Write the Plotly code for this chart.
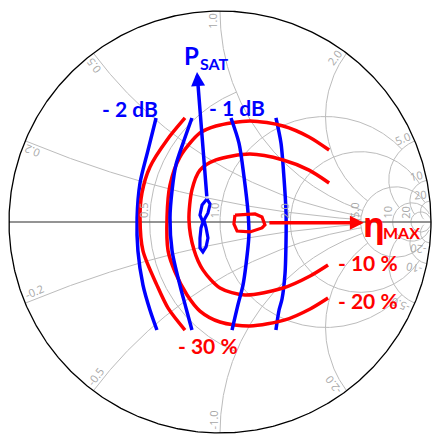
import numpy as np
import plotly.graph_objects as go

# ---------------- Smith chart grid definition ----------------
real_ticks = [0.5, 1.0, 2.0, 5.0, 10.0, 20.0]
real_tick_labels = ["0.5", "1.0", "2.0", "5.0", "10", "20"]
real_limits = [1.0, 5.0, 10.0, 20.0, 50.0, 1e6]      # |x| up to which each r-circle is drawn
imag_ticks = [0.2, 0.5, 1.0, 2.0, 5.0, 10.0, 20.0]
imag_tick_labels = ["0.2", "0.5", "1.0", "2.0", "5.0", "10", "20"]
imag_limits = [5.0, 5.0, 5.0, 5.0, 10.0, 20.0, 50.0]  # r up to which each x-arc is drawn

# ---------------- Load-pull contours (reflection coefficient, re / im) ----------------
# Psat -2 dB contour (two visible arcs)
psat_2db_left_re = [-0.303, -0.341, -0.379, -0.393, -0.389, -0.365, -0.332, -0.299]
psat_2db_left_im = [0.493, 0.341, 0.185, 0.019, -0.137, -0.299, -0.417, -0.512]
psat_2db_right_re = [0.265, 0.289, 0.303, 0.313, 0.313, 0.308, 0.294, 0.280, 0.265]
psat_2db_right_im = [0.493, 0.374, 0.213, 0.043, -0.085, -0.246, -0.365, -0.417, -0.512]
# Psat -1 dB contour
psat_1db_left_re = [-0.133, -0.175, -0.209, -0.227, -0.237, -0.227, -0.190, -0.161, -0.133]
psat_1db_left_im = [0.493, 0.374, 0.270, 0.152, 0.019, -0.137, -0.299, -0.408, -0.512]
psat_1db_right_re = [0.052, 0.090, 0.114, 0.133, 0.137, 0.123, 0.109, 0.085, 0.057]
psat_1db_right_im = [0.493, 0.374, 0.213, 0.043, -0.062, -0.204, -0.299, -0.393, -0.512]
# Psat peak region
psat_peak_re = [-0.062, -0.047, -0.057, -0.076, -0.066, -0.057, -0.066, -0.081, -0.095,
                -0.095, -0.090, -0.081, -0.095, -0.085, -0.062]
psat_peak_im = [0.109, 0.085, 0.043, 0.009, -0.028, -0.076, -0.118, -0.142, -0.123,
                -0.076, -0.028, 0.000, 0.033, 0.081, 0.109]
# Efficiency contours
eff_30_re = [-0.166, -0.251, -0.332, -0.370, -0.379, -0.365, -0.299, -0.246, -0.166]
eff_30_im = [0.493, 0.389, 0.261, 0.137, 0.019, -0.137, -0.299, -0.408, -0.512]
eff_20_re = [0.517, 0.422, 0.299, 0.142, -0.019, -0.095, -0.190, -0.237, -0.251, -0.246,
             -0.213, -0.156, -0.095, 0.000, 0.142, 0.308, 0.427, 0.512]
eff_20_im = [0.341, 0.403, 0.455, 0.479, 0.455, 0.422, 0.308, 0.175, 0.024, -0.137,
             -0.237, -0.346, -0.422, -0.474, -0.493, -0.464, -0.412, -0.360]
eff_10_re = [0.517, 0.422, 0.299, 0.142, -0.019, -0.095, -0.133, -0.147, -0.123, -0.081,
             0.000, 0.118, 0.299, 0.427, 0.512]
eff_10_im = [0.185, 0.246, 0.294, 0.322, 0.294, 0.246, 0.152, 0.009, -0.133, -0.227,
             -0.313, -0.346, -0.313, -0.256, -0.204]
eff_peak_re = [0.071, 0.166, 0.199, 0.213, 0.199, 0.142, 0.081, 0.066, 0.071]
eff_peak_im = [0.033, 0.038, 0.024, -0.014, -0.028, -0.047, -0.043, -0.009, 0.033]

# Arrows (tail -> head)
psat_arrow_re = [-0.062, -0.109]
psat_arrow_im = [0.114, 0.711]
eff_arrow_re = [0.227, 0.682]
eff_arrow_im = [-0.004, -0.004]

# ---------------- Figure geometry ----------------
W, H = 432, 436
CX, CY, R = 220.0, 222.0, 211.0   # pixel centre and radius of the chart

BLUE = "#0000FF"
RED = "#FF0000"
GRID = "#bcbcbc"
LBL = "#a8a8a8"

fig = go.Figure()


def gamma(z):
    return (z - 1) / (z + 1)


def add_line(re, im, color, width, shape="linear", smoothing=1.0):
    fig.add_trace(go.Scatter(x=list(re), y=list(im), mode="lines",
                             line=dict(color=color, width=width, shape=shape,
                                       smoothing=smoothing if shape == "spline" else None),
                             hoverinfo="skip", showlegend=False))


# resistance circles
for r, lim in zip(real_ticks, real_limits):
    xs = np.tan(np.linspace(-np.arctan(lim), np.arctan(lim), 800))
    g = gamma(r + 1j * xs)
    add_line(g.real, g.imag, GRID, 1)

# reactance arcs
for v, lim in zip(imag_ticks, imag_limits):
    rs = np.tan(np.linspace(0, np.arctan(lim), 500))
    for s in (1, -1):
        g = gamma(rs + 1j * s * v)
        add_line(g.real, g.imag, GRID, 1)

# real axis
add_line([-1, 1], [0, 0], "#707070", 1.6)
# outer circle
th = np.linspace(0, 2 * np.pi, 721)
add_line(np.cos(th), np.sin(th), "#000000", 1.3)

# contours
add_line(psat_2db_left_re, psat_2db_left_im, BLUE, 3.5, "spline", 0.8)
add_line(psat_2db_right_re, psat_2db_right_im, BLUE, 3.5, "spline", 0.8)
add_line(eff_30_re, eff_30_im, RED, 3.5, "spline", 0.8)
add_line(eff_20_re, eff_20_im, RED, 3.5, "spline", 0.8)
add_line(eff_10_re, eff_10_im, RED, 3.5, "spline", 0.8)
add_line(psat_1db_left_re, psat_1db_left_im, BLUE, 3.5, "spline", 0.8)
add_line(psat_1db_right_re, psat_1db_right_im, BLUE, 3.5, "spline", 0.8)
add_line(eff_peak_re, eff_peak_im, RED, 3.2)
add_line(psat_peak_re, psat_peak_im, BLUE, 3.2)

annotations = []

# ---- grid labels ----
FS = 11


def text_len(t):
    w = 0.0
    for ch in t:
        w += 3.0 if ch == "." else (3.8 if ch == "-" else 6.2)
    return w


for v, lab in zip(imag_ticks, imag_tick_labels):
    for s in (1, -1):
        g = gamma(1j * s * v)
        th0 = np.angle(g)
        out = np.array([np.cos(th0), np.sin(th0)])
        u = out if s > 0 else -out
        up = np.array([-u[1], u[0]])
        txt = lab if s > 0 else "-" + lab
        L = text_len(txt)
        pos = out * (1 - (3 + L / 2) / R) + up * (7 / R)
        ang = np.degrees(np.arctan2(u[1], u[0]))
        annotations.append(dict(x=pos[0], y=pos[1], xref="x", yref="y", text=txt,
                                showarrow=False, textangle=-ang, xanchor="center",
                                yanchor="middle",
                                font=dict(family="Open Sans", size=FS, color=LBL)))

for r, lab in zip(real_ticks, real_tick_labels):
    gx = (r - 1) / (r + 1)
    L = text_len(lab)
    annotations.append(dict(x=gx - 5.5 / R, y=(3.5 + L / 2) / R, xref="x", yref="y", text=lab,
                            showarrow=False, textangle=-90, xanchor="center", yanchor="middle",
                            font=dict(family="Open Sans", size=FS, color=LBL)))

# ---- arrows ----
annotations.append(dict(x=psat_arrow_re[1], y=psat_arrow_im[1], ax=psat_arrow_re[0],
                        ay=psat_arrow_im[0], xref="x", yref="y", axref="x", ayref="y",
                        text="", showarrow=True, arrowhead=2, arrowsize=0.8,
                        arrowwidth=3.5, arrowcolor=BLUE, standoff=0))
annotations.append(dict(x=eff_arrow_re[1], y=eff_arrow_im[1], ax=eff_arrow_re[0],
                        ay=eff_arrow_im[0], xref="x", yref="y", axref="x", ayref="y",
                        text="", showarrow=True, arrowhead=2, arrowsize=0.8,
                        arrowwidth=3.5, arrowcolor=RED, standoff=0))

# ---- contour labels ----
label_text = ["- 2 dB", "- 1 dB", "- 10 %", "- 20 %", "- 30 %"]
label_color = [BLUE, BLUE, RED, RED, RED]
label_re = [-0.427, 0.081, 0.701, 0.701, -0.057]
label_im = [0.536, 0.545, -0.194, -0.370, -0.583]
for t, c, x, y in zip(label_text, label_color, label_re, label_im):
    annotations.append(dict(x=x, y=y, xref="x", yref="y", text="<b>" + t + "</b>",
                            showarrow=False, xanchor="center", yanchor="middle",
                            font=dict(family="Lato", size=21, color=c)))

annotations.append(dict(x=-0.137, y=0.791, xref="x", yref="y", text="<b>P</b>",
                        showarrow=False, xanchor="center", yanchor="middle",
                        font=dict(family="Lato", size=24, color=BLUE)))
annotations.append(dict(x=-0.024, y=0.749, xref="x", yref="y", text="<b>SAT</b>",
                        showarrow=False, xanchor="center", yanchor="middle",
                        font=dict(family="Lato", size=16, color=BLUE)))
annotations.append(dict(x=0.730, y=-0.010, xref="x", yref="y", text="<b>η</b>",
                        showarrow=False, xanchor="center", yanchor="middle",
                        font=dict(family="Noto Sans", size=34, color=RED)))
annotations.append(dict(x=0.860, y=-0.050, xref="x", yref="y", text="<b>MAX</b>",
                        showarrow=False, xanchor="center", yanchor="middle",
                        font=dict(family="Lato", size=16, color=RED)))

fig.update_layout(
    width=W, height=H,
    margin=dict(l=0, r=0, t=0, b=0),
    paper_bgcolor="white", plot_bgcolor="white",
    xaxis=dict(range=[(0 - CX) / R, (W - CX) / R], visible=False, fixedrange=True),
    yaxis=dict(range=[(CY - H) / R, CY / R], visible=False, fixedrange=True),
    annotations=annotations,
    showlegend=False,
)

fig.write_html("out.html", config={"displayModeBar": False},
               post_script="document.body.style.margin='0';document.body.style.overflow='hidden';")
